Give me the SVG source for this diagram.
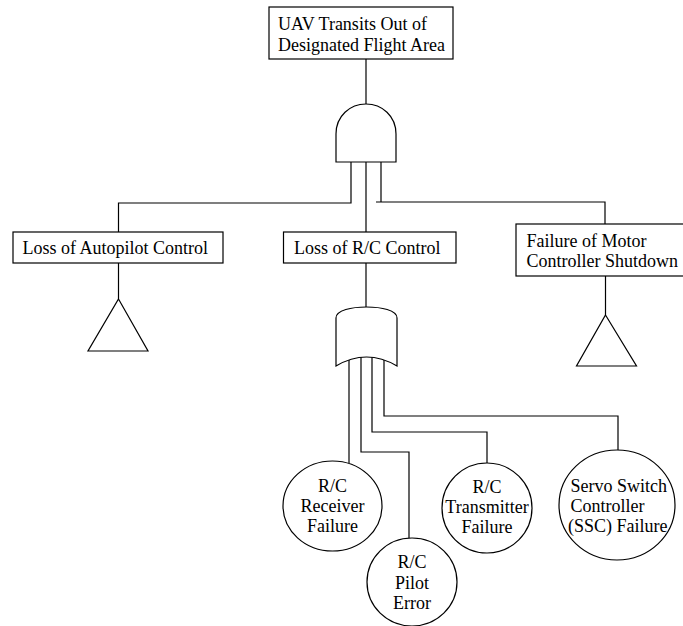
<svg xmlns="http://www.w3.org/2000/svg" width="683" height="626" viewBox="0 0 683 626">
<rect width="683" height="626" fill="#fff"/>
<g id="connectors" fill="none" stroke="#000" stroke-width="1.2">
<path d="M366,59 V104"/>
<path d="M351,162 V203 H118.5 V232"/>
<path d="M366,162 V232"/>
<path d="M381,162 V202 M376,202 H605 V224"/>
<path d="M118.5,263 V299"/>
<path d="M605.5,276 V315"/>
<path d="M366,263 V307"/>
<path d="M349,360 V463"/>
<path d="M361,357 V452 H409 V538"/>
<path d="M372,357 V432 H487 V463"/>
<path d="M384,360 V416 H618 V450"/>
</g>
<g id="top-event">
<rect fill="#fff" stroke="#000" stroke-width="1.2" x="269" y="7" width="184" height="52"/>
<text font-family="Liberation Serif" font-size="18" x="278" y="30">UAV Transits Out of</text>
<text font-family="Liberation Serif" font-size="18" x="278" y="50.5">Designated Flight Area</text>
</g>
<g id="and-gate">
<path fill="#fff" stroke="#000" stroke-width="1.2" d="M336,162 V134 C336,116 350,104 366,104 C382,104 396,116 396,134 V162 Z"/>
</g>
<g id="loss-autopilot">
<rect fill="#fff" stroke="#000" stroke-width="1.2" x="13" y="232" width="210" height="31"/>
<text font-family="Liberation Serif" font-size="18" x="22.5" y="254">Loss of Autopilot Control</text>
</g>
<g id="loss-rc">
<rect fill="#fff" stroke="#000" stroke-width="1.2" x="283.5" y="232" width="172.5" height="31"/>
<text font-family="Liberation Serif" font-size="18" x="294" y="254">Loss of R/C Control</text>
</g>
<g id="motor-controller">
<rect fill="#fff" stroke="#000" stroke-width="1.2" x="516" y="224" width="180" height="52"/>
<text font-family="Liberation Serif" font-size="18" x="526.5" y="247">Failure of Motor</text>
<text font-family="Liberation Serif" font-size="18" x="526.5" y="267">Controller Shutdown</text>
</g>
<g id="transfer-autopilot">
<polygon fill="#fff" stroke="#000" stroke-width="1.2" points="118.5,299 148,351 88,351"/>
</g>
<g id="transfer-motor">
<polygon fill="#fff" stroke="#000" stroke-width="1.2" points="605.5,315 636.5,366 576.5,366"/>
</g>
<g id="or-gate">
<path fill="#fff" stroke="#000" stroke-width="1.2" d="M336,366 V318 C336,310 352,307 366.5,307 C381,307 397,310 397,318 V366 Q366.5,348 336,366 Z"/>
</g>
<g id="rc-receiver">
<ellipse fill="#fff" stroke="#000" stroke-width="1.2" cx="332.5" cy="506" rx="49.5" ry="45"/>
<text font-family="Liberation Serif" font-size="18" text-anchor="middle" x="332.5" y="492">R/C</text>
<text font-family="Liberation Serif" font-size="18" text-anchor="middle" x="332.5" y="512">Receiver</text>
<text font-family="Liberation Serif" font-size="18" text-anchor="middle" x="332.5" y="532">Failure</text>
</g>
<g id="rc-pilot">
<ellipse fill="#fff" stroke="#000" stroke-width="1.2" cx="412" cy="582" rx="45" ry="44"/>
<text font-family="Liberation Serif" font-size="18" text-anchor="middle" x="412" y="568">R/C</text>
<text font-family="Liberation Serif" font-size="18" text-anchor="middle" x="412" y="588.5">Pilot</text>
<text font-family="Liberation Serif" font-size="18" text-anchor="middle" x="412" y="609">Error</text>
</g>
<g id="rc-transmitter">
<ellipse fill="#fff" stroke="#000" stroke-width="1.2" cx="487" cy="508" rx="45" ry="45"/>
<text font-family="Liberation Serif" font-size="18" text-anchor="middle" x="487" y="493">R/C</text>
<text font-family="Liberation Serif" font-size="18" text-anchor="middle" x="487" y="513">Transmitter</text>
<text font-family="Liberation Serif" font-size="18" text-anchor="middle" x="487" y="533">Failure</text>
</g>
<g id="ssc">
<ellipse fill="#fff" stroke="#000" stroke-width="1.2" cx="617" cy="505" rx="58" ry="55"/>
<text font-family="Liberation Serif" font-size="18" x="570.5" y="492">Servo Switch</text>
<text font-family="Liberation Serif" font-size="18" x="570.5" y="512">Controller</text>
<text font-family="Liberation Serif" font-size="18" x="568" y="532">(SSC) Failure</text>
</g>
</svg>
